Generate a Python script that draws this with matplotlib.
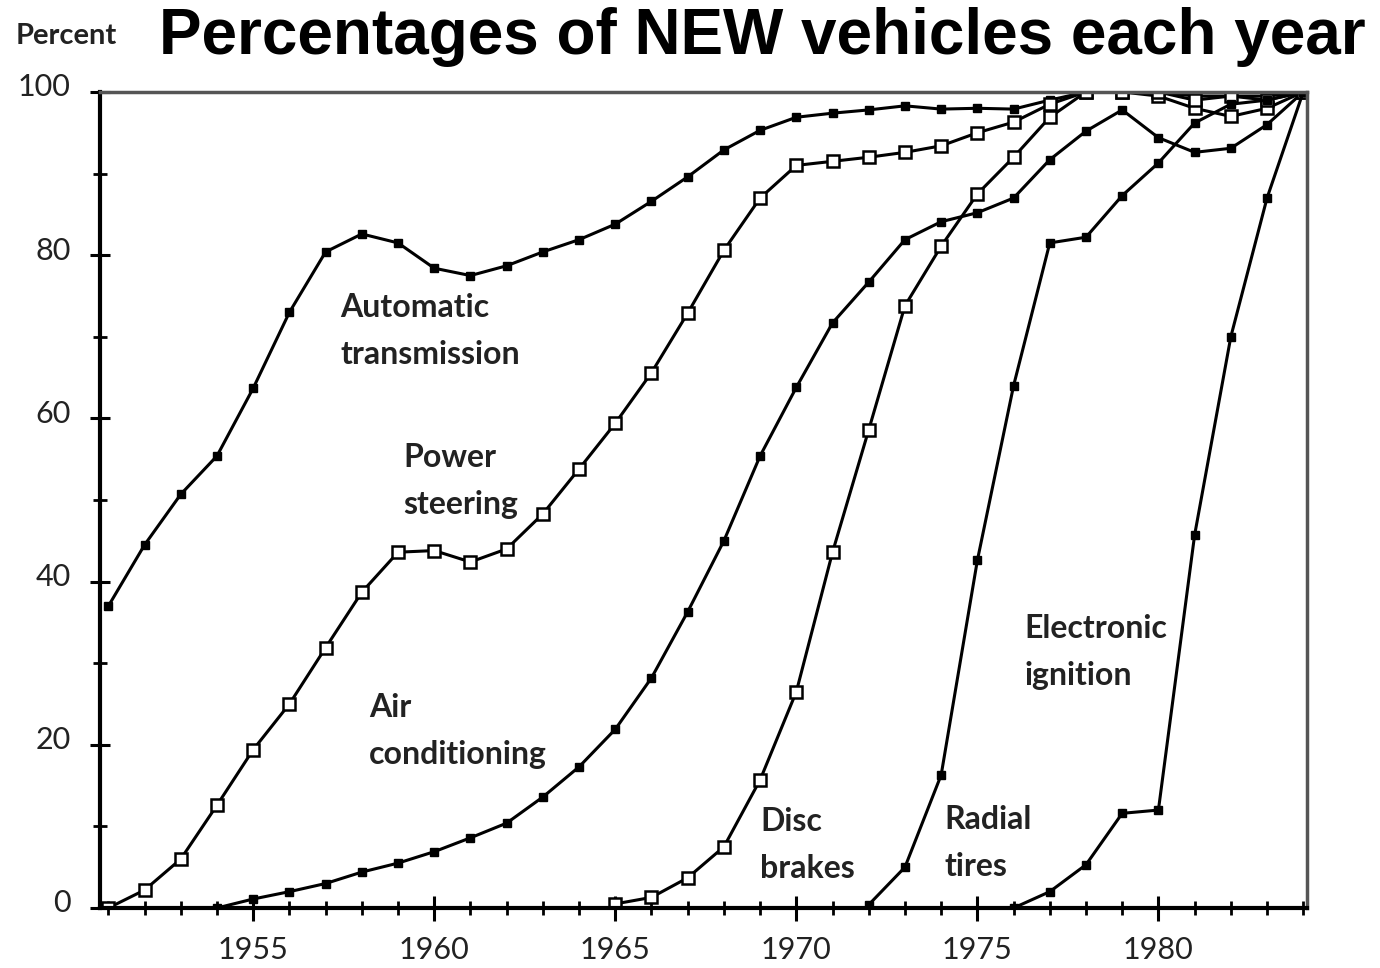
import numpy as np
import matplotlib
matplotlib.use("Agg")
import matplotlib.pyplot as plt
import matplotlib.transforms as mtransforms
from matplotlib.ticker import MultipleLocator

# years 1951..1984
years = list(range(1951, 1985))

auto_trans = [37, 44.5, 50.7, 55.4, 63.7, 73, 80.4, 82.6, 81.5, 78.4, 77.5, 78.7,
              80.4, 81.9, 83.8, 86.6, 89.6, 92.9, 95.3, 96.9, 97.4, 97.8, 98.3,
              97.9, 98, 97.9, 99, 100, 100, 100, 99.5, 99.5, 99.5, 100]
power_steer = [0, 2.2, 6, 12.6, 19.4, 25, 31.9, 38.7, 43.6, 43.8, 42.4, 44, 48.3,
               53.8, 59.4, 65.6, 72.9, 80.6, 87, 91, 91.5, 92, 92.6, 93.4, 95,
               96.3, 98.5, 100, 100, 99.5, 98, 97, 98, 100]

ac_years = list(range(1954, 1985))
air_cond = [0, 1.1, 2, 3, 4.4, 5.5, 6.9, 8.6, 10.4, 13.6, 17.3, 21.9, 28.2, 36.3,
            45, 55.4, 63.8, 71.7, 76.7, 81.9, 84.1, 85.2, 87, 91.7, 95.2, 97.8,
            94.4, 92.6, 93.1, 96, 100]

disc_years = list(range(1965, 1985))
disc_brakes = [0.5, 1.3, 3.7, 7.5, 15.7, 26.5, 43.6, 58.6, 73.8, 81.1, 87.5, 92,
               96.9, 100, 100, 100, 99, 99.5, 99, 100]

radial_years = list(range(1972, 1985))
radial_tires = [0.4, 5, 16.3, 42.6, 64, 81.5, 82.2, 87.3, 91.3, 96.2, 98.5, 99, 100]

ign_years = list(range(1976, 1985))
elec_ignition = [0, 2, 5.3, 11.6, 12, 45.7, 70, 87, 100]

labels = ["Automatic\ntransmission", "Power\nsteering", "Air\nconditioning",
          "Disc\nbrakes", "Radial\ntires", "Electronic\nignition"]
label_pos = [(1957.4, 75.4), (1959.15, 57.0), (1958.2, 26.4),
             (1969.0, 12.4), (1974.1, 12.6), (1976.3, 36.0)]

fig = plt.figure(figsize=(13.8, 9.68), dpi=100)
ax = fig.add_axes([0.0725, 0.062, 0.8745, 0.843])

lw = 2.2
ax.plot(years, auto_trans, "-s", color="black", lw=lw, ms=6)
ax.plot(years, power_steer, "-s", color="black", lw=lw, ms=8, mfc="white", mew=1.8)
ax.plot(ac_years, air_cond, "-s", color="black", lw=lw, ms=6)
ax.plot(disc_years, disc_brakes, "-s", color="black", lw=lw, ms=8, mfc="white", mew=1.8)
ax.plot(radial_years, radial_tires, "-s", color="black", lw=lw, ms=6)
ax.plot(ign_years, elec_ignition, "-s", color="black", lw=lw, ms=6)

for txt, (x, y) in zip(labels, label_pos):
    ax.text(x, y, txt, fontsize=23, fontfamily="Lato", fontweight="bold",
            color="#222222", va="top", ha="left", linespacing=1.75)

ax.set_xlim(1950.77, 1984.1)
ax.set_ylim(0, 100)
ax.xaxis.set_minor_locator(MultipleLocator(1))
ax.yaxis.set_major_locator(MultipleLocator(20))
ax.yaxis.set_minor_locator(MultipleLocator(10))
ax.set_xticks(range(1955, 1985, 5))
ax.tick_params(axis="both", which="major", direction="inout", length=18, width=2.2,
               labelsize=22)
ax.tick_params(axis="both", which="minor", direction="inout", length=10, width=2)
ax.tick_params(axis="x", which="major", pad=11)
ax.tick_params(axis="y", which="major", length=14, pad=14)
up = mtransforms.ScaledTranslation(0, 7 / 100, fig.dpi_scale_trans)
for lab in ax.get_xticklabels() + ax.get_yticklabels():
    lab.set_fontfamily("Lato")
    lab.set_color("#222222")
for lab in ax.get_yticklabels():
    lab.set_transform(lab.get_transform() + up)

for s in ["left", "bottom"]:
    ax.spines[s].set_linewidth(3)
for s in ["top", "right"]:
    ax.spines[s].set_linewidth(2.5)
    ax.spines[s].set_color("#555555")

fig.text(0.011, 0.963, "Percent", fontsize=21, fontfamily="Lato", fontweight="bold",
         color="#222222", va="center", ha="left")
fig.text(0.115, 0.962, "Percentages of NEW vehicles each year", fontsize=46,
         fontfamily="Liberation Sans", fontweight="bold", va="center", ha="left")

fig.savefig("out.png", dpi=100)
